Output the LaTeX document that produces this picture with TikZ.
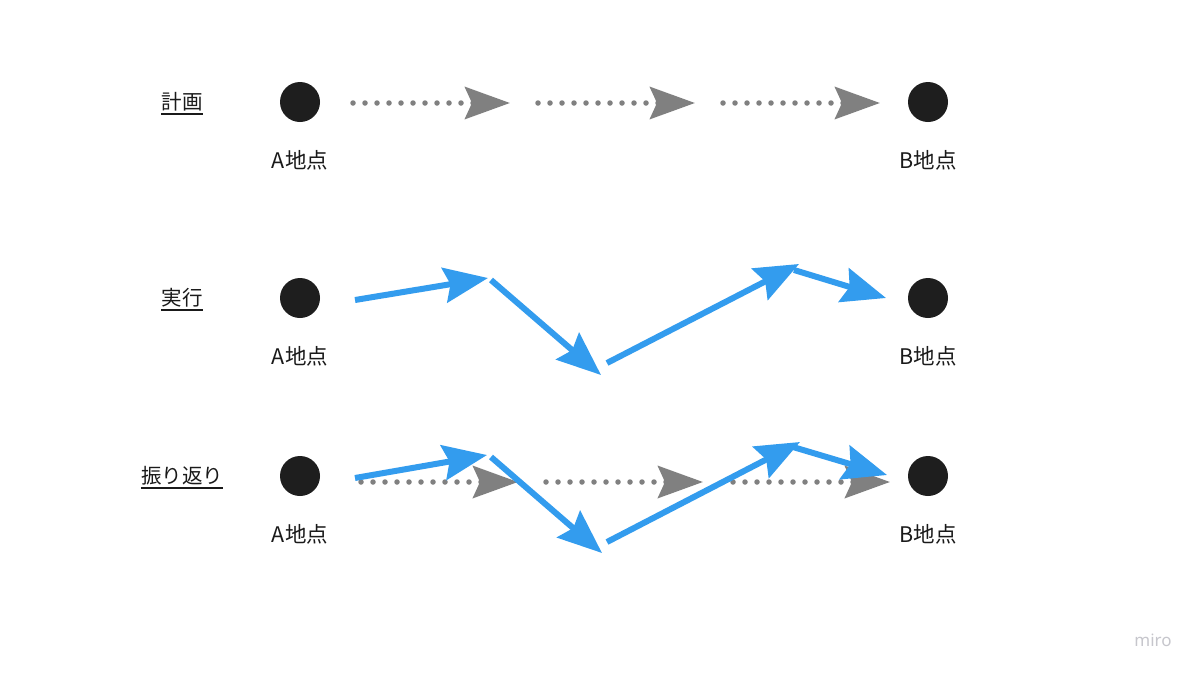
\documentclass[tikz,border=0pt]{standalone}
\usepackage{fontspec}
\setmainfont{Noto Sans CJK JP}
\newfontfamily\logofont{Noto Sans}
\usepackage{tikz}
\usetikzlibrary{
  arrows.meta,
  positioning
}
\definecolor{rfDot}{HTML}{1E1E1E}
\definecolor{rfPlan}{HTML}{808080}
\definecolor{rfRun}{HTML}{339CEE}
\definecolor{rfText}{HTML}{1A1A1A}
\definecolor{rfLogo}{HTML}{C6C6CC}
\tikzset{
  spot/.style={circle, fill=rfDot, minimum size=40pt, inner sep=0pt},
  place/.style={font=\fontsize{21.5}{26}\selectfont, text=rfText, inner sep=0pt},
  rowlabel/.style={font=\fontsize{20.5}{24}\selectfont, text=rfText, inner xsep=0pt, inner ysep=2.5pt},
  underl/.style={line width=1.4pt, rfText},
  plan/.style={
    line width=5.5pt, rfPlan, line cap=round, dash pattern=on 0pt off 12pt,
    -{Stealth[length=45pt, width=32pt, inset=7pt]}
  },
  run/.style={
    line width=6pt, rfRun,
    -{Stealth[length=44pt, width=35pt, inset=6pt]}
  }
}

\begin{document}
\begin{tikzpicture}[x=1pt, y=-1pt]
  \useasboundingbox (0,0) rectangle (1200,675);
  \fill[white] (0,0) rectangle (1200,675);
  % rows: plan / run / review
  \foreach \r/\y/\t in {1/102/計画, 2/298/実行, 3/476/振り返り}{
    \node[rowlabel] (lab\r) at (182,\y) {\t};
    \draw[underl] (lab\r.south west) -- (lab\r.south east);
    \node[spot] (a\r) at (300,\y) {};
    \node[spot] (b\r) at (928,\y) {};
    \node[place, below=28pt of a\r] (na\r) {A地点};
    \node[place, below=28pt of b\r] (nb\r) {B地点};
  }
  % planned route
  \coordinate (p0) at (353,103);
  \coordinate (p1) at (510,103);
  \coordinate (p2) at (538,103);
  \coordinate (p3) at (695,103);
  \coordinate (p4) at (723,103);
  \coordinate (p5) at (880,103);
  % actual route
  \coordinate (q0) at (355,300);
  \coordinate (q1) at (488,278);
  \coordinate (q2) at (491,280);
  \coordinate (q3) at (601,375);
  \coordinate (q4) at (607,363);
  \coordinate (q5) at (799,264);
  \coordinate (q6) at (794,270);
  \coordinate (q7) at (886,298);
  % review: plan under run
  \coordinate (s0) at (361,482);
  \coordinate (s1) at (518,482);
  \coordinate (s2) at (546,482);
  \coordinate (s3) at (703,482);
  \coordinate (s4) at (733,482);
  \coordinate (s5) at (890,482);
  \coordinate (t0) at (355,478);
  \coordinate (t1) at (487,455);
  \coordinate (t2) at (491,457);
  \coordinate (t3) at (602,553);
  \coordinate (t4) at (607,542);
  \coordinate (t5) at (800,442);
  \coordinate (t6) at (793,447);
  \coordinate (t7) at (887,475);
  \foreach \m/\n in {0/1,2/3,4/5}{
    \draw[plan] (p\m) -- (p\n);
    \draw[plan] (s\m) -- (s\n);
  }
  \foreach \m/\n in {0/1,2/3,4/5,6/7}{
    \draw[run] (q\m) -- (q\n);
    \draw[run] (t\m) -- (t\n);
  }
  \node[font=\logofont\fontsize{17}{20}\selectfont, text=rfLogo] (logo) at (1153,640) {miro};
\end{tikzpicture}
\end{document}
